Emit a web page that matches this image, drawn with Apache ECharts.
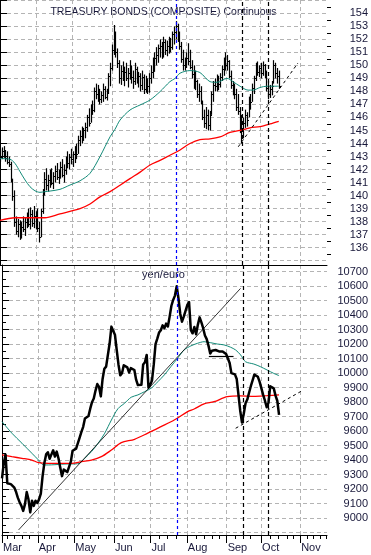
<!DOCTYPE html>
<html><head><meta charset="utf-8">
<script src="https://cdn.jsdelivr.net/npm/echarts@6/dist/echarts.min.js"></script>
<style>html,body{margin:0;padding:0;background:#fff}#c{width:371px;height:555px}</style>
</head><body><div id="c"></div>
<script>
// ---- axis categories / ticks (x in trading-day index units) ----
const monthNames = ['Mar','Apr','May','Jun','Jul','Aug','Sep','Oct','Nov'];
const monthStarts = [0, 20.28, 40.95, 63.47, 84.09, 104.76, 127.29, 146.83, 168.97];
const weekTicks = [2.8,7.15,11.26,15.6,24.05,28.16,32.5,36.78,45.34,49.85,54.35,58.86,68.15,74.18,78.85,89.16,93.89,98.56,109.83,114.5,119.23,122.95,132.36,136.69,140.8,152.07,156.74,161.48,165.2,172.74,176.46,180.23,184.0];
const bondTicks = [135,136,137,138,139,140,141,142,143,144,145,146,147,148,149,150,151,152,153,154,155];
const bondLabels = [136,137,138,139,140,141,142,143,144,145,146,147,148,149,150,151,152,153,154];
const bondMinor = [135.5,136.5,137.5,138.5,139.5,140.5,141.5,142.5,143.5,144.5,145.5,146.5,147.5,148.5,149.5,150.5,151.5,152.5,153.5,154.5];
const yenTicks = [8900,9000,9100,9200,9300,9400,9500,9600,9700,9800,9900,10000,10100,10200,10300,10400,10500,10600,10700];
const yenLabels = [9000,9100,9200,9300,9400,9500,9600,9700,9800,9900,10000,10100,10200,10300,10400,10500,10600,10700];
const yenMinor = [8950,9050,9150,9250,9350,9450,9550,9650,9750,9850,9950,10050,10150,10250,10350,10450,10550,10650];

// ---- Treasury bonds daily bars ----
const bondHigh = [
143.6,143.7,143.8,143.5,143.4,143.0,142.6,141.3,140.4,138.4,
138.2,138.1,138.0,138.4,138.3,138.7,139.0,139.1,138.9,139.2,
138.8,139.0,138.0,139.0,140.5,141.8,142.1,141.6,142.0,142.1,
141.8,142.3,142.5,142.0,142.6,142.8,142.4,143.0,143.4,143.2,
143.6,143.4,143.8,144.0,144.6,145.0,145.3,145.2,145.6,146.2,
146.7,147.0,147.3,148.3,148.6,148.5,148.2,148.0,148.6,148.4,
148.2,149.4,150.2,151.6,153.1,152.6,151.3,150.4,150.0,150.3,
149.9,150.2,149.8,150.4,150.0,149.6,150.2,149.9,149.5,149.4,
149.6,149.3,149.2,149.0,149.4,150.0,150.6,151.0,151.4,151.6,
152.0,151.8,152.2,152.0,151.9,152.2,152.1,152.6,153.0,153.4,
153.2,152.6,151.8,151.2,150.6,151.0,151.7,151.2,150.4,150.0,
149.6,148.9,148.6,148.4,147.3,146.6,146.8,146.6,146.5,148.0,
148.8,149.0,149.3,149.2,149.4,150.0,150.6,151.0,150.8,150.4,
149.6,148.8,148.6,148.2,147.8,146.8,146.2,146.0,146.6,146.4,
147.6,147.8,148.6,149.2,150.2,150.3,150.0,150.2,150.3,150.1,
149.6,148.8,148.5,148.8,150.4,150.2,149.8,149.6];
const bondLow = [
142.6,142.8,142.9,142.6,142.4,142.2,141.0,139.6,137.6,137.0,
136.8,136.6,136.7,137.2,136.9,137.5,137.6,137.4,137.6,137.5,
137.4,137.2,136.4,136.8,138.6,140.0,140.4,140.3,140.6,140.8,
140.5,141.0,141.2,140.9,141.3,141.4,141.0,141.6,142.1,142.0,
142.4,142.2,142.5,142.8,143.2,143.8,144.0,144.2,144.4,144.9,
145.3,145.6,146.2,146.4,147.4,147.2,147.0,147.1,147.2,147.4,
147.3,147.8,148.4,149.6,150.8,150.6,149.8,148.6,148.5,148.8,
148.4,148.8,148.3,148.9,148.6,148.2,148.5,148.6,148.3,148.0,
148.1,147.8,147.9,147.8,147.9,148.6,149.0,149.5,150.0,150.2,
150.6,150.5,150.6,150.8,150.7,150.9,151.0,151.2,151.6,152.0,
151.8,151.2,150.2,149.6,149.6,149.8,150.0,149.7,149.0,148.2,
148.1,147.5,147.2,147.0,145.8,145.2,145.1,145.0,145.0,146.2,
147.2,148.0,148.0,148.1,148.3,148.8,149.2,149.6,149.6,149.0,
148.2,147.7,147.4,146.5,146.2,144.8,144.0,144.4,145.2,145.3,
146.0,146.6,147.2,147.8,148.8,149.2,149.1,149.0,149.2,149.0,
148.0,147.4,147.5,147.7,148.6,149.0,148.6,148.2];
const bondClose = [
143.0,143.4,143.2,142.9,142.6,142.4,141.2,140.0,138.0,137.3,
137.8,137.0,137.6,137.4,138.0,138.2,137.8,138.6,137.9,138.4,
137.7,137.5,136.8,138.8,140.3,141.3,140.8,141.2,141.6,141.0,
141.5,141.9,141.4,141.7,142.2,141.6,142.0,142.7,142.5,143.0,
142.8,143.2,143.5,143.2,144.3,144.6,144.4,145.0,145.3,146.0,
145.6,146.8,146.6,148.0,147.8,148.2,147.4,147.7,148.2,147.6,
148.0,149.2,149.8,151.2,152.6,151.0,150.2,149.0,149.6,149.3,
149.5,149.0,149.4,149.8,149.1,148.8,149.7,149.0,149.2,148.5,
149.1,148.2,148.8,148.4,149.0,149.5,150.2,150.6,150.8,151.3,
151.5,151.0,151.8,151.2,151.5,151.9,151.4,152.4,152.6,153.0,
152.1,151.5,150.5,150.0,150.2,150.6,150.3,149.9,149.3,148.5,
148.8,147.8,148.0,147.3,146.0,145.6,146.2,145.4,146.2,147.8,
148.5,148.4,149.0,148.6,149.1,149.7,150.2,150.0,150.3,149.2,
148.5,148.2,147.8,146.8,146.5,145.2,144.6,145.6,146.2,145.8,
147.4,147.2,148.3,149.0,150.0,149.5,149.8,149.4,150.0,149.3,
148.3,147.8,148.2,148.4,150.0,149.4,149.2,148.4];
// moving averages read as [day index, value]
const bondMaFast = [[0,142.84],[5.6,142.79],[8.4,142.48],[11.3,141.83],[14.1,141.2],[16.9,140.68],[19.7,140.37],[22.5,140.25],[25.3,140.3],[28.2,140.35],[33.8,140.48],[39.4,140.81],[45.1,141.14],[50.7,141.71],[56.3,142.99],[62,144.52],[64.8,145.1],[67.6,145.8],[73.2,146.57],[78.9,146.96],[84.5,147.34],[90.1,147.98],[95.7,148.75],[98.6,149.0],[101.4,149.4],[107,149.6],[112.6,149.45],[118.3,148.75],[122.2,148.7],[127.9,149.0],[131.2,148.75],[135.2,148.4],[139.7,148.1],[142.5,148.1],[146.4,148.3],[150.4,148.4],[157,148.4]];
const bondMaSlow = [[0,138.1],[8.4,138.3],[25.3,138.3],[33.8,138.6],[45.1,139.0],[50.7,139.35],[56.3,139.9],[62,140.3],[67.6,140.8],[73.2,141.3],[78.9,141.8],[84.5,142.35],[90.1,142.7],[95.7,143.1],[101.4,143.5],[107,144.0],[112.6,144.3],[118.3,144.35],[123.9,144.5],[129.5,144.85],[135.2,145.0],[140.8,145.2],[146.4,145.3],[152.1,145.5],[157,145.7]];

// ---- yen/euro daily ----
const yenEuro = [
9275,9380,9440,9241,9240,9235,9225,9210,9180,9140,
9110,9085,9050,9095,9180,9130,9040,9120,9085,9120,
9105,9130,9170,9290,9380,9440,9455,9410,9440,9468,
9425,9459,9413,9350,9290,9335,9345,9318,9315,9390,
9465,9465,9480,9485,9555,9595,9630,9688,9682,9705,
9755,9800,9825,9880,9925,9905,9840,9960,10030,10045,
10057,10206,10321,10310,10265,10160,10060,9985,10000,10055,
10060,10040,10005,10035,10045,10022,9955,9918,9905,9920,
10060,10075,10126,9900,9920,9950,10060,10200,10238,10280,
10296,10330,10310,10342,10322,10390,10465,10505,10535,10600,
10515,10410,10355,10390,10430,10470,10490,10298,10275,10318,
10268,10335,10385,10350,10310,10260,10235,10190,10135,10155,
10150,10160,10172,10150,10160,10150,10140,10132,10120,10070,
10000,9995,9992,9960,9850,9740,9660,9720,9792,9818,
9865,9910,9950,9990,9995,9975,9940,9895,9850,9810,
9765,9795,9910,9920,9895,9845,9810,9712];
const yenMaFast = [[0,9666],[5.6,9586],[11.3,9517],[16.9,9448],[20.7,9401],[23.5,9367],[26.3,9367],[30,9369],[33.8,9372],[37.6,9374],[41.3,9374],[44.1,9380],[46.9,9413],[50.7,9459],[54.5,9517],[58.2,9586],[62,9677],[65.7,9755],[69.4,9792],[73.2,9834],[77,9850],[80.7,9872],[84.5,9896],[88.3,9941],[92,9988],[95.7,10045],[99.5,10103],[103.2,10160],[107,10188],[110.8,10206],[114.5,10217],[118.3,10210],[122,10201],[125.8,10195],[129.5,10179],[132.4,10160],[135.2,10126],[138,10079],[142.7,10063],[146.4,10045],[150.2,10022],[153.9,9999],[157,9983]];
const yenMaSlow = [[0,9436],[5.6,9424],[11.3,9413],[16.9,9401],[20.7,9383],[26.3,9378],[33.8,9378],[39.4,9378],[45.1,9390],[50.7,9401],[56.3,9424],[62,9470],[67.6,9521],[75.1,9544],[82.6,9586],[90.1,9631],[97.6,9677],[105.2,9735],[108.9,9753],[114.5,9788],[120.1,9803],[127.7,9838],[135.2,9843],[142.7,9840],[150.2,9845],[157,9850]];

// ---- annotations ----
const blueMarkers = [99.1];
const blackMarkers = [136.5, 150.8];
const bondTrend = [[134.2,143.75],[167.8,150.18]];
const yenTrendLong = [[9.4,8919],[135.2,10585]];
const yenTrendShort = [[132.4,9620],[170.8,9884]];
const yenFlat = [[117.2,10119],[131.2,10119]];

const FONT = 'Liberation Sans';
const TXT = '#18183a';
const GRID = '#b4b4b4';
const xMin = 0, xMax = 184.17;

function vlines(){
  const out = [];
  blueMarkers.forEach(v => out.push({xAxis: v, lineStyle:{color:'#0000ff', type:[3,3], width:1.2}}));
  blackMarkers.forEach(v => out.push({xAxis: v, lineStyle:{color:'#000', type:[4,3], width:1.2}}));
  return out;
}
function seg(p, style){ return [{coord:p[0], lineStyle:style},{coord:p[1]}]; }

const chart = echarts.init(document.getElementById('c'), null, {renderer:'canvas'});
const option = {
  animation: false,
  backgroundColor: '#fff',
  grid: [
    {left:0, top:0, width:327, height:265},
    {left:0, top:265, width:327, height:270}
  ],
  xAxis: [
    {gridIndex:0, type:'value', position:'bottom', min:xMin, max:xMax,
     axisLine:{show:true, lineStyle:{color:'#000', width:1}},
     axisTick:{show:false, customValues: monthStarts},
     axisLabel:{show:false},
     splitLine:{show:true, lineStyle:{color:GRID, type:[4,3]}}},
    {gridIndex:1, type:'value', position:'bottom', min:xMin, max:xMax,
     axisLine:{show:true, lineStyle:{color:'#000', width:1}},
     axisTick:{show:true, customValues: monthStarts, length:8, lineStyle:{color:'#000'}},
     axisLabel:{show:true, customValues: monthStarts, align:'left', margin:7, padding:[0,0,0,1],
       fontFamily:FONT, fontSize:11, color:TXT,
       formatter: v => { let k=0, d=1e9; monthStarts.forEach((m,j)=>{ if(Math.abs(m-v)<d){d=Math.abs(m-v);k=j;} }); return monthNames[k]; }},
     splitLine:{show:true, lineStyle:{color:GRID, type:[4,3]}}},
    {gridIndex:1, type:'value', position:'bottom', offset:0, min:xMin, max:xMax,
     axisLine:{show:false},
     axisTick:{show:true, customValues: weekTicks, length:4, lineStyle:{color:'#000'}},
     axisLabel:{show:false}, splitLine:{show:false}}
  ],
  yAxis: [
    {gridIndex:0, type:'value', position:'right', min:134.67, max:155.02,
     axisLine:{show:true, lineStyle:{color:'#000', width:1}},
     axisTick:{show:true, customValues: bondTicks, length:7, lineStyle:{color:'#000'}},
     axisLabel:{show:true, customValues: bondLabels, align:'right', margin:41, fontFamily:FONT, fontSize:11, color:TXT,
       formatter: v => String(Math.round(v))},
     splitLine:{show:true, lineStyle:{color:GRID, type:[4,3]}}},
    {gridIndex:0, type:'value', position:'right', offset:0, min:134.67, max:155.02,
     axisLine:{show:false},
     axisTick:{show:true, customValues: bondMinor, length:4, lineStyle:{color:'#000'}},
     axisLabel:{show:false}, splitLine:{show:false}},
    {gridIndex:1, type:'value', position:'right', min:8884, max:10746,
     axisLine:{show:true, lineStyle:{color:'#000', width:1}},
     axisTick:{show:true, customValues: yenTicks, length:7, lineStyle:{color:'#000'}},
     axisLabel:{show:true, customValues: yenLabels, align:'right', margin:41, fontFamily:FONT, fontSize:11, color:TXT,
       formatter: v => String(Math.round(v))},
     splitLine:{show:true, lineStyle:{color:GRID, type:[4,3]}}},
    {gridIndex:1, type:'value', position:'right', offset:0, min:8884, max:10746,
     axisLine:{show:false},
     axisTick:{show:true, customValues: yenMinor, length:4, lineStyle:{color:'#000'}},
     axisLabel:{show:false}, splitLine:{show:false}}
  ],
  graphic: [
    {type:'text', x:163.5, y:12, style:{text:'TREASURY BONDS (COMPOSITE) Continuous', font:'10.5px "Liberation Sans"', fill:TXT, textAlign:'center', textVerticalAlign:'middle'}},
    {type:'text', x:163.5, y:275, style:{text:'yen/euro', font:'11px "Liberation Sans"', fill:TXT, textAlign:'center', textVerticalAlign:'middle'}}
  ],
  series: [
    {type:'custom', xAxisIndex:0, yAxisIndex:0, silent:true, clip:true,
     data: bondHigh.map((h,i)=>[i, h, bondLow[i], bondClose[i]]),
     encode:{x:0, y:[1,2,3]},
     renderItem:(params, api)=>{
       const i = api.value(0);
       const top = api.coord([i, api.value(1)]);
       const bot = api.coord([i, api.value(2)]);
       const cl = api.coord([i, api.value(3)]);
       const x = Math.round(top[0]) + 0.5;
       const cy = Math.round(cl[1]) + 0.5;
       return {type:'group', children:[
         {type:'line', shape:{x1:x, y1:top[1], x2:x, y2:bot[1]}, style:{stroke:'#000', lineWidth:1.2}},
         {type:'line', shape:{x1:x, y1:cy, x2:x+1.5, y2:cy}, style:{stroke:'#000', lineWidth:1}}
       ]};
     }},
    {type:'line', xAxisIndex:0, yAxisIndex:0, data:bondMaFast, smooth:0.3, symbol:'none', silent:true,
     lineStyle:{color:'#138a78', width:1},
     markLine:{silent:true, symbol:'none', label:{show:false},
       data: vlines().concat([seg(bondTrend, {color:'#000', type:[3,3], width:1})])}},
    {type:'line', xAxisIndex:0, yAxisIndex:0, data:bondMaSlow, smooth:0.3, symbol:'none', silent:true,
     lineStyle:{color:'#ff0000', width:1.3}},
    {type:'line', xAxisIndex:1, yAxisIndex:2, data:yenMaFast, smooth:0.3, symbol:'none', silent:true,
     lineStyle:{color:'#138a78', width:1}},
    {type:'line', xAxisIndex:1, yAxisIndex:2, data:yenMaSlow, smooth:0.3, symbol:'none', silent:true,
     lineStyle:{color:'#ff0000', width:1.3}},
    {type:'line', xAxisIndex:1, yAxisIndex:2, data:yenEuro.map((v,i)=>[i,v]), symbol:'none', silent:true,
     lineStyle:{color:'#000', width:2.5, join:'round'},
     markLine:{silent:true, symbol:'none', label:{show:false},
       data: vlines().concat([
         seg(yenTrendLong, {color:'#000', type:'solid', width:0.8}),
         seg(yenTrendShort, {color:'#000', type:[3,3], width:1}),
         seg(yenFlat, {color:'#000', type:'solid', width:1.2})
       ])}}
  ]
};
chart.setOption(option);
</script></body></html>
